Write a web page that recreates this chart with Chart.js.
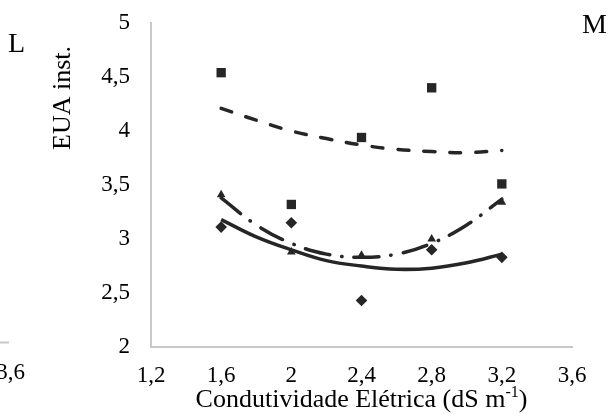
<!DOCTYPE html>
<html>
<head>
<meta charset="utf-8">
<script src="https://cdn.jsdelivr.net/npm/chart.js@4/dist/chart.umd.min.js"></script>
<style>
  html, body { margin: 0; padding: 0; background: #fff; }
  #wrap { width: 616px; height: 417px; position: relative; }
</style>
</head>
<body>
<div id="wrap"><canvas id="c" width="616" height="417"></canvas></div>
<script>
// Condutividade elétrica (dS m-1) where observations were taken
const ecLevels = [1.6, 2.0, 2.4, 2.8, 3.2];
// Observed EUA inst. values (three series)
const squareValues = [4.54, 3.32, 3.94, 4.40, 3.51];
const triangleValues = [3.41, 2.88, 2.85, 3.00, 3.34];
const diamondValues = [3.11, 3.15, 2.43, 2.90, 2.83];
// Trend lines at these x positions
const trendX = [1.6, 1.8, 2.0, 2.2, 2.4, 2.6, 2.8, 3.0, 3.2];
const squareTrend = [4.21, 4.10, 4.00, 3.93, 3.87, 3.83, 3.81, 3.80, 3.82];
const triangleTrend = [3.38, 3.13, 2.96, 2.86, 2.83, 2.86, 2.96, 3.13, 3.37];
const diamondTrend = [3.18, 3.02, 2.90, 2.80, 2.75, 2.72, 2.73, 2.78, 2.86];
// Axis ticks
const xTicks = [1.2, 1.6, 2.0, 2.4, 2.8, 3.2, 3.6];
const yTicks = [2, 2.5, 3, 3.5, 4, 4.5, 5];

const INK = '#262626';
const FONT = "'Liberation Serif', 'Times New Roman', serif";

function pts(xs, ys) { return xs.map((x, i) => ({ x: x, y: ys[i] })); }
function fmt(v) { return String(Math.round(v * 10) / 10).replace('.', ','); }

const overlay = {
  id: 'overlay',
  afterDraw(chart) {
    const ctx = chart.ctx;
    const ca = chart.chartArea;
    ctx.save();
    ctx.fillStyle = '#000';
    // X axis title with superscript
    const main = 'Condutividade Elétrica (dS m';
    const sup = '-1';
    const tail = ')';
    ctx.font = '26px ' + FONT;
    const w1 = ctx.measureText(main).width;
    const w3 = ctx.measureText(tail).width;
    ctx.font = '16px ' + FONT;
    const w2 = ctx.measureText(sup).width;
    const total = w1 + w2 + w3;
    const cx = (ca.left + ca.right) / 2;
    let x0 = cx - total / 2;
    const base = 407;
    ctx.textBaseline = 'alphabetic';
    ctx.textAlign = 'left';
    ctx.font = '26px ' + FONT;
    ctx.fillText(main, x0, base);
    ctx.font = '16px ' + FONT;
    ctx.fillText(sup, x0 + w1, base - 10);
    ctx.font = '26px ' + FONT;
    ctx.fillText(tail, x0 + w1 + w2, base);

    // Y axis title
    ctx.save();
    ctx.translate(63, 98);
    ctx.rotate(-Math.PI / 2);
    ctx.textAlign = 'center';
    ctx.textBaseline = 'middle';
    ctx.font = '26px ' + FONT;
    ctx.fillText('EUA inst.', 0, 0);
    ctx.restore();

    // Panel letters
    ctx.font = '28px ' + FONT;
    ctx.textAlign = 'left';
    ctx.textBaseline = 'middle';
    ctx.fillText('L', 8, 45);
    ctx.fillText('M', 582, 26);

    // Fragment of the neighbouring panel on the left
    ctx.strokeStyle = '#C8C8C8';
    ctx.lineWidth = 2;
    ctx.beginPath();
    ctx.moveTo(0, 342.5);
    ctx.lineTo(9, 342.5);
    ctx.stroke();
    ctx.font = '23px ' + FONT;
    ctx.textAlign = 'right';
    ctx.fillText('3,6', 25, 373);
    ctx.restore();
  }
};

new Chart(document.getElementById('c'), {
  type: 'scatter',
  data: {
    datasets: [
      { label: 'sq', data: pts(ecLevels, squareValues), pointStyle: 'rect', pointRadius: 6.6,
        backgroundColor: INK, borderColor: INK, borderWidth: 0, showLine: false },
      { label: 'tri', data: pts(ecLevels, triangleValues), pointStyle: 'triangle', pointRadius: 5,
        backgroundColor: INK, borderColor: INK, borderWidth: 0, showLine: false },
      { label: 'dia', data: pts(ecLevels, diamondValues), pointStyle: 'rectRot', pointRadius: 5.8,
        backgroundColor: INK, borderColor: INK, borderWidth: 0, showLine: false },
      { label: 'sqTrend', data: pts(trendX, squareTrend), showLine: true, pointRadius: 0,
        borderColor: INK, borderWidth: 3.5, borderDash: [11, 15], borderCapStyle: 'round', tension: 0.4, fill: false },
      { label: 'triTrend', data: pts(trendX, triangleTrend), showLine: true, pointRadius: 0,
        borderColor: INK, borderWidth: 3.5, borderDash: [25, 12, 0.5, 12], borderCapStyle: 'round', tension: 0.4, fill: false },
      { label: 'diaTrend', data: pts(trendX, diamondTrend), showLine: true, pointRadius: 0,
        borderColor: INK, borderWidth: 3.5, tension: 0.4, fill: false }
    ]
  },
  options: {
    responsive: false,
    animation: false,
    events: [],
    layout: { padding: { left: 0, right: 44, top: 23, bottom: 0 } },
    plugins: { legend: { display: false }, tooltip: { enabled: false }, title: { display: false } },
    scales: {
      x: {
        type: 'linear', min: 1.2, max: 3.6,
        afterBuildTicks(s) { s.ticks = xTicks.map(v => ({ value: v })); },
        afterFit(s) { s.height = 70; s.paddingLeft = 0; s.paddingRight = 0; },
        grid: { display: false, drawTicks: false },
        border: { display: true, color: '#C8C8C8', width: 2 },
        ticks: { color: '#000', font: { family: FONT, size: 23 }, padding: 15, maxRotation: 0, callback: v => fmt(v) }
      },
      y: {
        type: 'linear', min: 2, max: 5,
        afterBuildTicks(s) { s.ticks = yTicks.map(v => ({ value: v })); },
        afterFit(s) { s.width = 151; s.paddingTop = 0; s.paddingBottom = 0; },
        grid: { display: false, drawTicks: false },
        border: { display: true, color: '#C8C8C8', width: 2 },
        ticks: { color: '#000', font: { family: FONT, size: 23 }, padding: 21, callback: v => fmt(v) }
      }
    }
  },
  plugins: [overlay]
});
</script>
</body>
</html>
